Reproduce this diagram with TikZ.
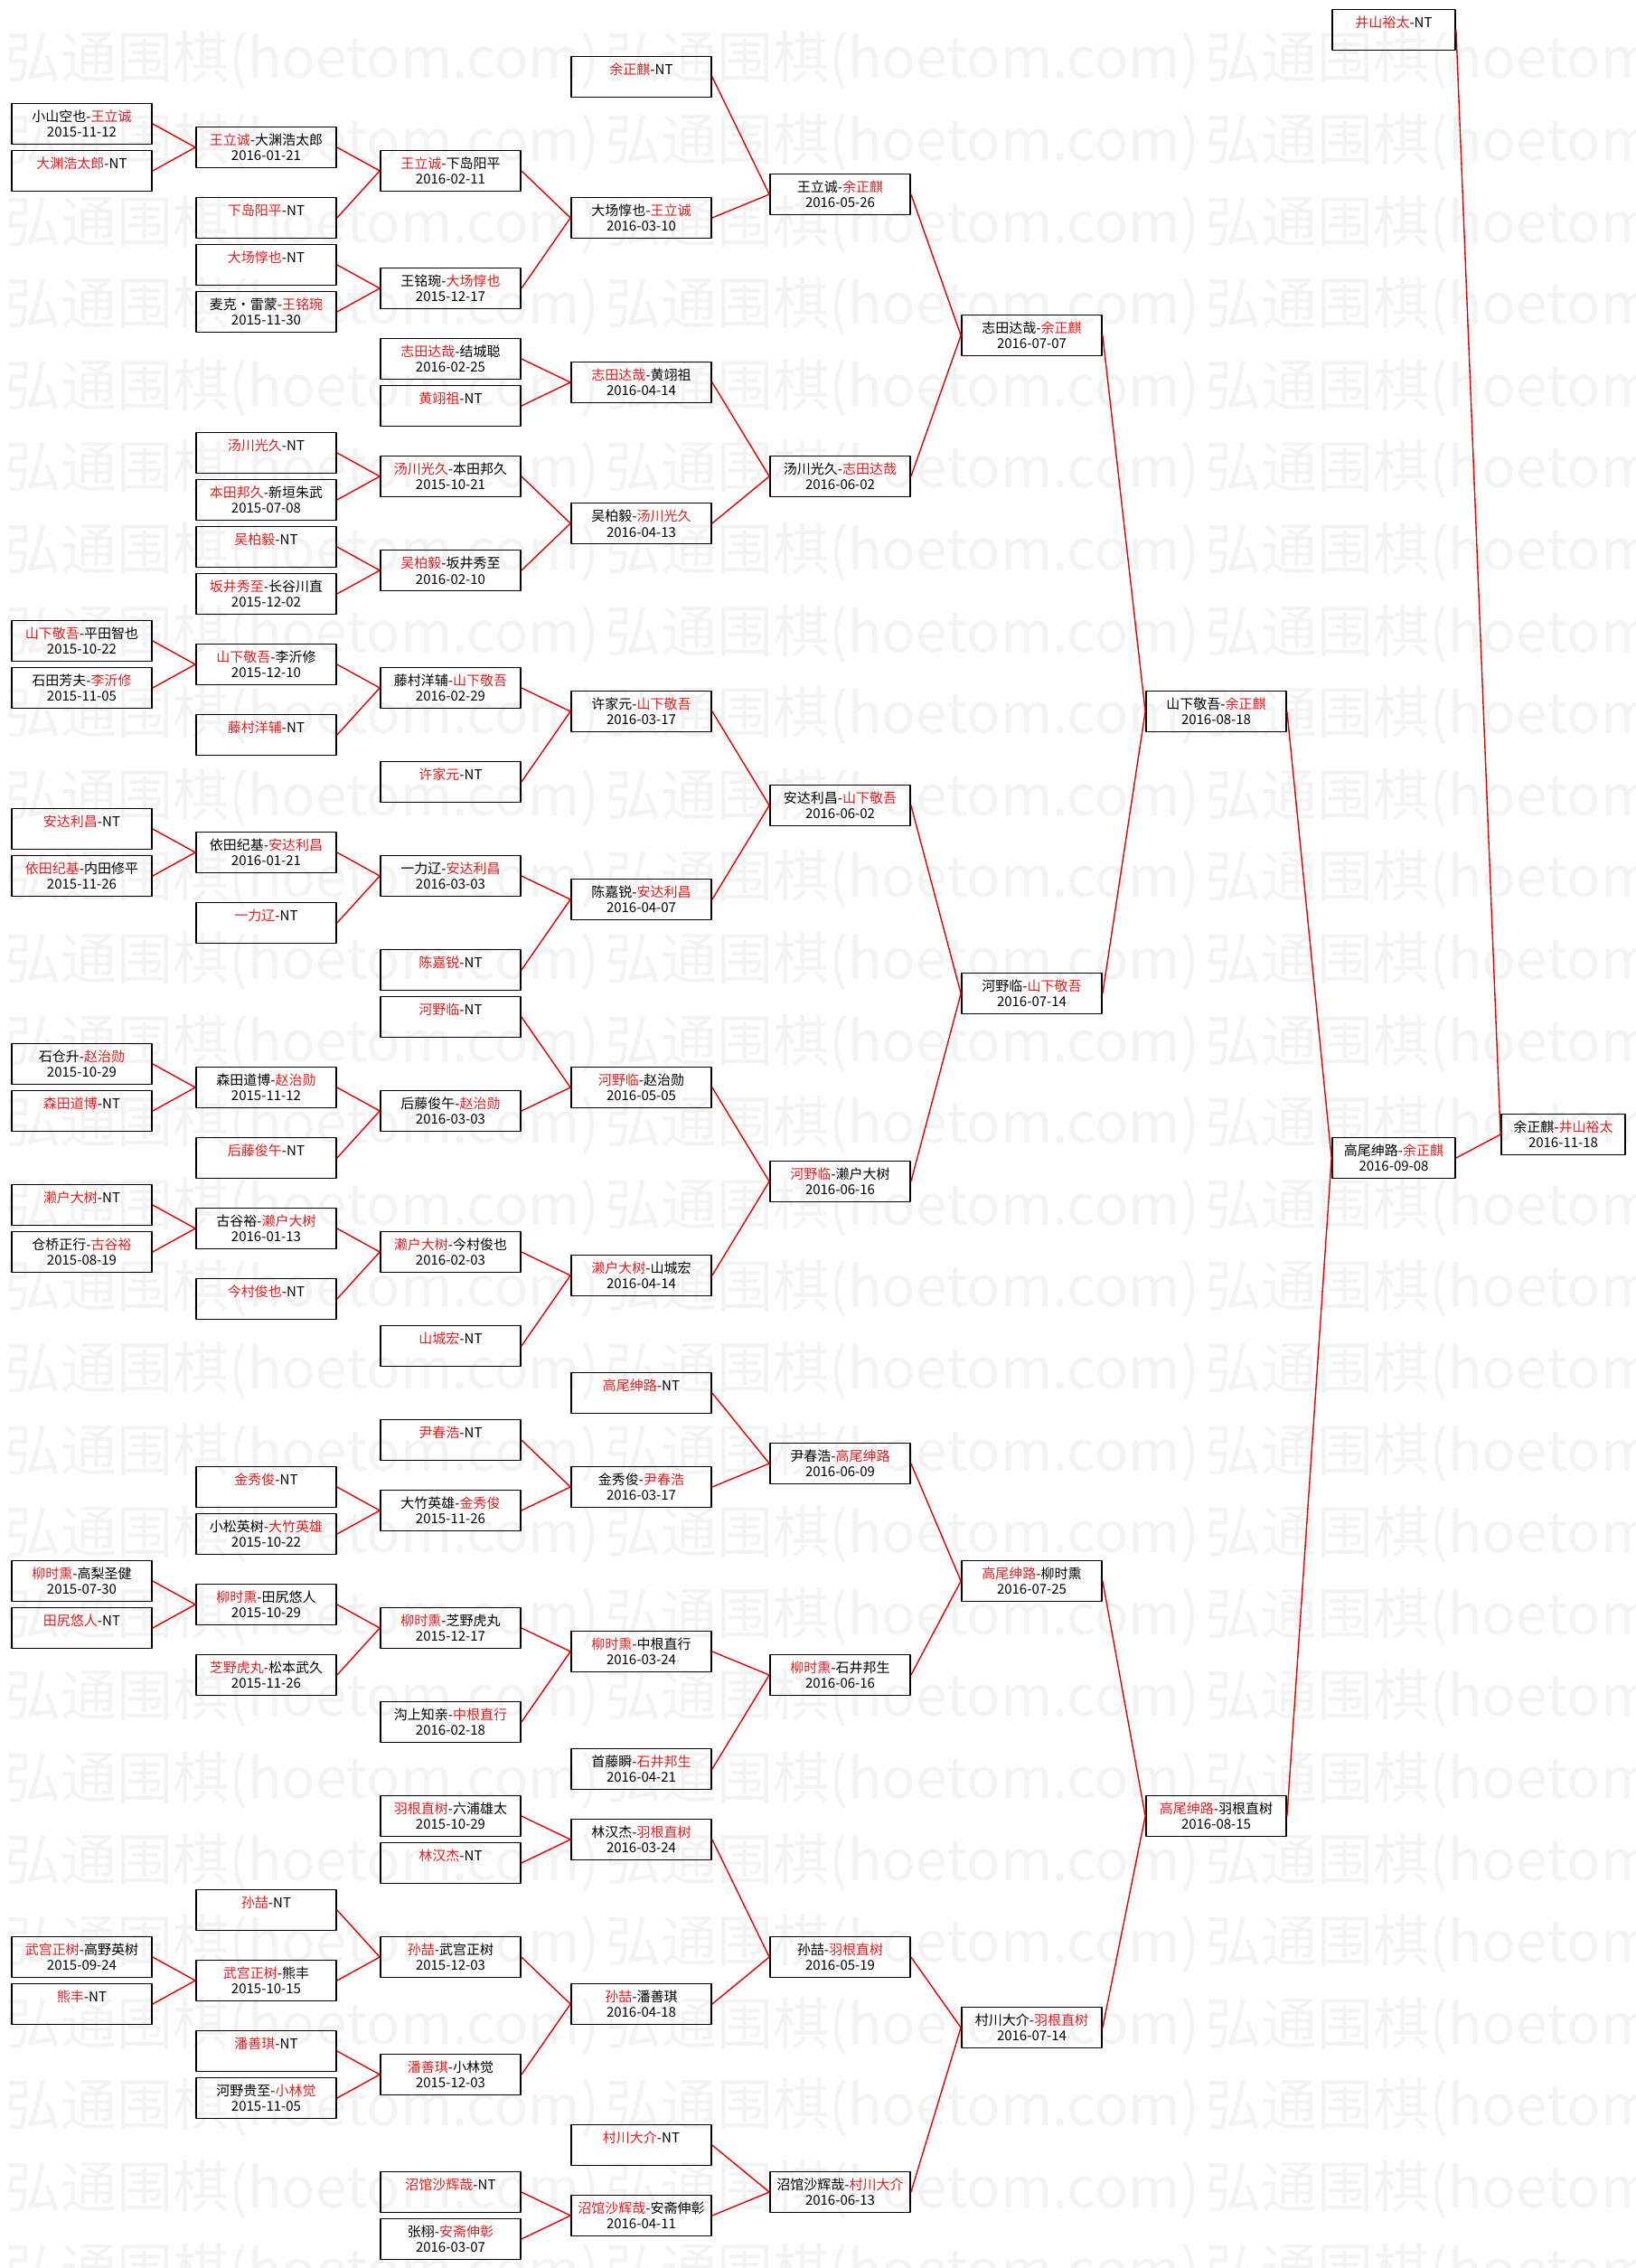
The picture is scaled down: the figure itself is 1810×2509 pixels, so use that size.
\documentclass[tikz,border=0pt]{standalone}
\usepackage{fontspec}
\setmainfont{Noto Sans CJK SC}
\definecolor{wred}{RGB}{225,30,30}
\definecolor{lred}{RGB}{230,0,0}
\definecolor{mark}{RGB}{243,243,243}
\newcommand{\wn}[1]{\textcolor{wred}{#1}}
\newcommand{\nt}[1]{\wn{#1}-NT\\\phantom{0}}
\tikzset{
  game/.style={draw, line width=1.8pt, minimum width=155pt, minimum height=45pt, inner sep=0pt, align=center, font=\fontsize{15}{17.4}\selectfont},
  link/.style={draw=lred, line width=1.4pt},
}
\begin{document}
\begin{tikzpicture}[x=1pt, y=-1pt, line join=round]
	\useasboundingbox (0,0) rectangle (1810,2509);
	% watermark
	\begin{scope}
		\clip (0,0) rectangle (1810,2509);
		\foreach \j in {0,...,27}
			\foreach \i in {0,1,2}
				\node[anchor=west, inner sep=0pt, text=mark, font=\fontsize{62}{62}\selectfont\addfontfeature{FakeBold=0}] (wm-\j-\i) at ({5+664*\i},{67+90.6*\j}) {弘通围棋(hoetom.com)};
	\end{scope}
	% round 1
	\node[game] (a4) at (90.5,137) {小山空也-\wn{王立诚}\\2015-11-12};
	\node[game] (a6) at (90.5,189) {\nt{大渊浩太郎}};
	\node[game] (a26) at (90.5,709) {\wn{山下敬吾}-平田智也\\2015-10-22};
	\node[game] (a28) at (90.5,761) {石田芳夫-\wn{李沂修}\\2015-11-05};
	\node[game] (a34) at (90.5,917) {\nt{安达利昌}};
	\node[game] (a36) at (90.5,969) {\wn{依田纪基}-内田修平\\2015-11-26};
	\node[game] (a44) at (90.5,1177) {石仓升-\wn{赵治勋}\\2015-10-29};
	\node[game] (a46) at (90.5,1229) {\nt{森田道博}};
	\node[game] (a50) at (90.5,1333) {\nt{濑户大树}};
	\node[game] (a52) at (90.5,1385) {仓桥正行-\wn{古谷裕}\\2015-08-19};
	\node[game] (a66) at (90.5,1749) {\wn{柳时熏}-高梨圣健\\2015-07-30};
	\node[game] (a68) at (90.5,1801) {\nt{田尻悠人}};
	\node[game] (a82) at (90.5,2165) {\wn{武宫正树}-高野英树\\2015-09-24};
	\node[game] (a84) at (90.5,2217) {\nt{熊丰}};
	% round 2
	\node[game] (b5) at (294.5,163) {\wn{王立诚}-大渊浩太郎\\2016-01-21};
	\node[game] (b8) at (294.5,241) {\nt{下岛阳平}};
	\node[game] (b10) at (294.5,293) {\nt{大场惇也}};
	\node[game] (b12) at (294.5,345) {麦克・雷蒙-\wn{王铭琬}\\2015-11-30};
	\node[game] (b18) at (294.5,501) {\nt{汤川光久}};
	\node[game] (b20) at (294.5,553) {\wn{本田邦久}-新垣朱武\\2015-07-08};
	\node[game] (b22) at (294.5,605) {\nt{吴柏毅}};
	\node[game] (b24) at (294.5,657) {\wn{坂井秀至}-长谷川直\\2015-12-02};
	\node[game] (b27) at (294.5,735) {\wn{山下敬吾}-李沂修\\2015-12-10};
	\node[game] (b30) at (294.5,813) {\nt{藤村洋辅}};
	\node[game] (b35) at (294.5,943) {依田纪基-\wn{安达利昌}\\2016-01-21};
	\node[game] (b38) at (294.5,1021) {\nt{一力辽}};
	\node[game] (b45) at (294.5,1203) {森田道博-\wn{赵治勋}\\2015-11-12};
	\node[game] (b48) at (294.5,1281) {\nt{后藤俊午}};
	\node[game] (b51) at (294.5,1359) {古谷裕-\wn{濑户大树}\\2016-01-13};
	\node[game] (b54) at (294.5,1437) {\nt{今村俊也}};
	\node[game] (b62) at (294.5,1645) {\nt{金秀俊}};
	\node[game] (b64) at (294.5,1697) {小松英树-\wn{大竹英雄}\\2015-10-22};
	\node[game] (b67) at (294.5,1775) {\wn{柳时熏}-田尻悠人\\2015-10-29};
	\node[game] (b70) at (294.5,1853) {\wn{芝野虎丸}-松本武久\\2015-11-26};
	\node[game] (b80) at (294.5,2113) {\nt{孙喆}};
	\node[game] (b83) at (294.5,2191) {\wn{武宫正树}-熊丰\\2015-10-15};
	\node[game] (b86) at (294.5,2269) {\nt{潘善琪}};
	\node[game] (b88) at (294.5,2321) {河野贵至-\wn{小林觉}\\2015-11-05};
	% round 3
	\node[game] (c6) at (498.5,189) {\wn{王立诚}-下岛阳平\\2016-02-11};
	\node[game] (c11) at (498.5,319) {王铭琬-\wn{大场惇也}\\2015-12-17};
	\node[game] (c14) at (498.5,397) {\wn{志田达哉}-结城聪\\2016-02-25};
	\node[game] (c16) at (498.5,449) {\nt{黄翊祖}};
	\node[game] (c19) at (498.5,527) {\wn{汤川光久}-本田邦久\\2015-10-21};
	\node[game] (c23) at (498.5,631) {\wn{吴柏毅}-坂井秀至\\2016-02-10};
	\node[game] (c28) at (498.5,761) {藤村洋辅-\wn{山下敬吾}\\2016-02-29};
	\node[game] (c32) at (498.5,865) {\nt{许家元}};
	\node[game] (c36) at (498.5,969) {一力辽-\wn{安达利昌}\\2016-03-03};
	\node[game] (c40) at (498.5,1073) {\nt{陈嘉锐}};
	\node[game] (c42) at (498.5,1125) {\nt{河野临}};
	\node[game] (c46) at (498.5,1229) {后藤俊午-\wn{赵治勋}\\2016-03-03};
	\node[game] (c52) at (498.5,1385) {\wn{濑户大树}-今村俊也\\2016-02-03};
	\node[game] (c56) at (498.5,1489) {\nt{山城宏}};
	\node[game] (c60) at (498.5,1593) {\nt{尹春浩}};
	\node[game] (c63) at (498.5,1671) {大竹英雄-\wn{金秀俊}\\2015-11-26};
	\node[game] (c68) at (498.5,1801) {\wn{柳时熏}-芝野虎丸\\2015-12-17};
	\node[game] (c72) at (498.5,1905) {沟上知亲-\wn{中根直行}\\2016-02-18};
	\node[game] (c76) at (498.5,2009) {\wn{羽根直树}-六浦雄太\\2015-10-29};
	\node[game] (c78) at (498.5,2061) {\nt{林汉杰}};
	\node[game] (c82) at (498.5,2165) {\wn{孙喆}-武宫正树\\2015-12-03};
	\node[game] (c87) at (498.5,2295) {\wn{潘善琪}-小林觉\\2015-12-03};
	\node[game] (c92) at (498.5,2425) {\nt{沼馆沙辉哉}};
	\node[game] (c94) at (498.5,2477) {张栩-\wn{安斋伸彰}\\2016-03-07};
	% round 4
	\begin{scope}[every node/.append style={minimum width=171pt}]
	\node[game] (d2) at (709.5,85) {\nt{余正麒}};
	\node[game] (d8) at (709.5,241) {大场惇也-\wn{王立诚}\\2016-03-10};
	\node[game] (d15) at (709.5,423) {\wn{志田达哉}-黄翊祖\\2016-04-14};
	\node[game] (d21) at (709.5,579) {吴柏毅-\wn{汤川光久}\\2016-04-13};
	\node[game] (d29) at (709.5,787) {许家元-\wn{山下敬吾}\\2016-03-17};
	\node[game] (d37) at (709.5,995) {陈嘉锐-\wn{安达利昌}\\2016-04-07};
	\node[game] (d45) at (709.5,1203) {\wn{河野临}-赵治勋\\2016-05-05};
	\node[game] (d53) at (709.5,1411) {\wn{濑户大树}-山城宏\\2016-04-14};
	\node[game] (d58) at (709.5,1541) {\nt{高尾绅路}};
	\node[game] (d62) at (709.5,1645) {金秀俊-\wn{尹春浩}\\2016-03-17};
	\node[game] (d69) at (709.5,1827) {\wn{柳时熏}-中根直行\\2016-03-24};
	\node[game] (d74) at (709.5,1957) {首藤瞬-\wn{石井邦生}\\2016-04-21};
	\node[game] (d77) at (709.5,2035) {林汉杰-\wn{羽根直树}\\2016-03-24};
	\node[game] (d84) at (709.5,2217) {\wn{孙喆}-潘善琪\\2016-04-18};
	\node[game] (d90) at (709.5,2373) {\nt{村川大介}};
	\node[game] (d93) at (709.5,2451) {\wn{沼馆沙辉哉}-安斋伸彰\\2016-04-11};
	% round 5
	\node[game] (e7) at (929.5,215) {王立诚-\wn{余正麒}\\2016-05-26};
	\node[game] (e19) at (929.5,527) {汤川光久-\wn{志田达哉}\\2016-06-02};
	\node[game] (e33) at (929.5,891) {安达利昌-\wn{山下敬吾}\\2016-06-02};
	\node[game] (e49) at (929.5,1307) {\wn{河野临}-濑户大树\\2016-06-16};
	\node[game] (e61) at (929.5,1619) {尹春浩-\wn{高尾绅路}\\2016-06-09};
	\node[game] (e70) at (929.5,1853) {\wn{柳时熏}-石井邦生\\2016-06-16};
	\node[game] (e82) at (929.5,2165) {孙喆-\wn{羽根直树}\\2016-05-19};
	\node[game] (e92) at (929.5,2425) {沼馆沙辉哉-\wn{村川大介}\\2016-06-13};
	\end{scope}
	% round 6
	\node[game] (f13) at (1141.5,371) {志田达哉-\wn{余正麒}\\2016-07-07};
	\node[game] (f41) at (1141.5,1099) {河野临-\wn{山下敬吾}\\2016-07-14};
	\node[game] (f66) at (1141.5,1749) {\wn{高尾绅路}-柳时熏\\2016-07-25};
	\node[game] (f85) at (1141.5,2243) {村川大介-\wn{羽根直树}\\2016-07-14};
	% semifinal, final
	\node[game] (g29) at (1345.5,787) {山下敬吾-\wn{余正麒}\\2016-08-18};
	\node[game] (g76) at (1345.5,2009) {\wn{高尾绅路}-羽根直树\\2016-08-15};
	\node[game, minimum width=136pt] (h0) at (1542,33) {\nt{井山裕太}};
	\node[game, minimum width=136pt] (h48) at (1542,1281) {高尾绅路-\wn{余正麒}\\2016-09-08};
	\node[game, minimum width=137pt] (i47) at (1729.5,1255) {余正麒-\wn{井山裕太}\\2016-11-18};
	% links
	\draw[link] (a4.east)--(b5.west)--(a6.east) (a26.east)--(b27.west)--(a28.east) (a34.east)--(b35.west)--(a36.east) (a44.east)--(b45.west)--(a46.east) (a50.east)--(b51.west)--(a52.east) (a66.east)--(b67.west)--(a68.east) (a82.east)--(b83.west)--(a84.east);
	\draw[link] (b5.east)--(c6.west)--(b8.east) (b10.east)--(c11.west)--(b12.east) (b18.east)--(c19.west)--(b20.east) (b22.east)--(c23.west)--(b24.east) (b27.east)--(c28.west)--(b30.east) (b35.east)--(c36.west)--(b38.east) (b45.east)--(c46.west)--(b48.east) (b51.east)--(c52.west)--(b54.east) (b62.east)--(c63.west)--(b64.east) (b67.east)--(c68.west)--(b70.east) (b80.east)--(c82.west)--(b83.east) (b86.east)--(c87.west)--(b88.east);
	\draw[link] (c6.east)--(d8.west)--(c11.east) (c14.east)--(d15.west)--(c16.east) (c19.east)--(d21.west)--(c23.east) (c28.east)--(d29.west)--(c32.east) (c36.east)--(d37.west)--(c40.east) (c42.east)--(d45.west)--(c46.east) (c52.east)--(d53.west)--(c56.east) (c60.east)--(d62.west)--(c63.east) (c68.east)--(d69.west)--(c72.east) (c76.east)--(d77.west)--(c78.east) (c82.east)--(d84.west)--(c87.east) (c92.east)--(d93.west)--(c94.east);
	\draw[link] (d2.east)--(e7.west)--(d8.east) (d15.east)--(e19.west)--(d21.east) (d29.east)--(e33.west)--(d37.east) (d45.east)--(e49.west)--(d53.east) (d58.east)--(e61.west)--(d62.east) (d69.east)--(e70.west)--(d74.east) (d77.east)--(e82.west)--(d84.east) (d90.east)--(e92.west)--(d93.east);
	\draw[link] (e7.east)--(f13.west)--(e19.east) (e33.east)--(f41.west)--(e49.east) (e61.east)--(f66.west)--(e70.east) (e82.east)--(f85.west)--(e92.east);
	\draw[link] (f13.east)--(g29.west)--(f41.east) (f66.east)--(g76.west)--(f85.east);
	\draw[link] (g29.east)--(h48.west)--(g76.east) (h0.east)--(i47.west)--(h48.east);
\end{tikzpicture}
\end{document}
